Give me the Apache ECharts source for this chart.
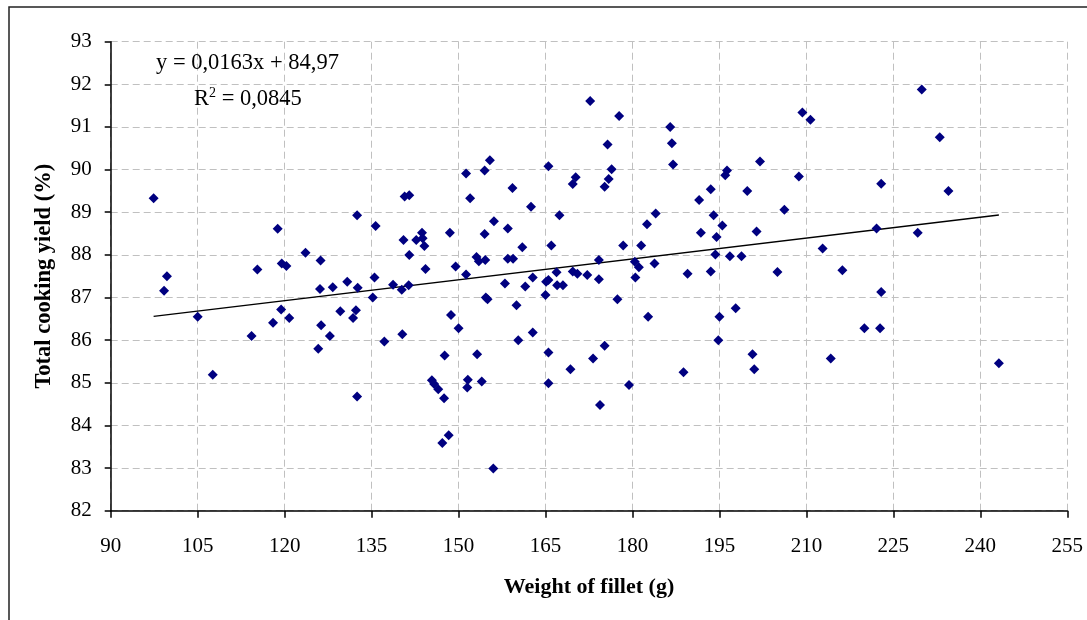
<!DOCTYPE html>
<html>
<head>
<meta charset="utf-8">
<script src="https://cdn.jsdelivr.net/npm/echarts@6/dist/echarts.min.js"></script>
<style>
html,body{margin:0;padding:0;background:#fff;}
#chart{width:1087px;height:620px;}
</style>
</head>
<body>
<div id="chart"></div>
<script>
// Weight of fillet (g)
var weights = [97.4,99.2,99.7,105.0,107.6,114.3,115.3,118.0,118.8,119.4,119.5,120.3,120.8,123.6,126.2,126.1,126.3,125.8,127.8,128.3,
129.6,130.8,131.8,132.3,132.5,132.6,132.5,135.2,135.5,135.7,137.2,138.7,140.2,140.3,140.5,140.7,141.5,141.4,141.5,142.7,
143.7,143.8,144.1,144.3,145.4,145.8,146.5,147.6,147.5,147.2,148.3,148.5,148.7,149.5,150.0,151.3,151.3,151.6,151.5,152.0,
153.2,153.1,153.5,154.0,154.5,155.4,154.5,154.6,154.7,155.0,156.1,156.0,158.0,158.5,158.5,159.3,159.4,160.0,160.3,161.0,
161.5,162.5,162.8,162.8,165.0,165.1,165.5,165.5,165.5,166.0,166.9,167.0,167.4,165.5,168.0,169.3,169.7,170.2,169.7,170.5,
172.2,172.7,173.2,174.2,174.2,174.4,175.2,175.2,175.7,175.9,176.4,177.4,177.7,178.4,179.4,180.4,180.5,181.1,181.5,182.5,
182.7,183.8,184.0,186.5,186.8,187.0,188.8,189.5,191.5,191.8,193.5,193.5,194.0,194.3,194.5,194.8,195.0,195.5,196.0,196.3,
196.8,197.8,198.8,199.8,200.7,201.0,201.4,202.0,205.0,206.2,208.7,209.3,210.7,212.8,214.2,216.2,220.0,222.1,222.7,222.9,
222.9,229.2,229.9,233.0,234.5,243.2];
// Total cooking yield (%)
var yields = [89.33,87.16,87.50,86.55,85.19,86.10,87.66,86.41,88.61,86.72,87.80,87.74,86.52,88.05,87.87,87.20,86.35,85.80,86.10,87.24,
86.68,87.37,86.52,86.70,88.93,87.23,84.68,87.00,87.47,88.68,85.97,87.30,87.18,86.14,88.35,89.37,89.40,87.29,88.00,88.35,
88.52,88.39,88.21,87.67,85.06,84.97,84.85,85.64,84.64,83.59,83.77,88.52,86.59,87.73,86.28,89.91,87.54,85.07,84.89,89.33,
85.67,87.95,87.85,85.03,89.98,90.22,88.49,87.88,87.00,86.96,88.79,82.99,87.33,88.62,87.91,89.57,87.91,86.82,86.00,88.18,
87.26,89.13,86.18,87.47,87.06,87.37,90.08,85.71,84.99,88.22,87.59,87.29,88.93,87.41,87.29,85.32,89.66,89.82,87.61,87.56,
87.53,91.61,85.57,87.88,87.43,84.48,89.60,85.87,90.59,89.78,90.01,86.96,91.26,88.22,84.95,87.84,87.47,87.71,88.22,88.72,
86.55,87.80,88.97,91.00,90.62,90.12,85.25,87.56,89.29,88.52,89.54,87.61,88.93,88.01,88.42,86.00,86.55,88.69,89.87,89.98,
87.97,86.75,87.97,89.50,85.67,85.32,88.55,90.19,87.60,89.06,89.84,91.34,91.17,88.15,85.57,87.64,86.28,88.62,86.28,87.13,
89.67,88.52,91.88,90.76,89.50,85.46];
// Linear trend (as printed on chart)
var trendSlope = 0.0163;
var trendIntercept = 84.97;
var eqText = 'y = 0,0163x + 84,97';
var r2Text = '0,0845';
var xTicks = [90,105,120,135,150,165,180,195,210,225,240,255];
var yTicks = [82,83,84,85,86,87,88,89,90,91,92,93];

var points = weights.map(function(w,i){return [w, yields[i]];});
var xmin = Math.min.apply(null, weights), xmax = Math.max.apply(null, weights);
var trend = [[xmin, trendSlope*xmin+trendIntercept],[xmax, trendSlope*xmax+trendIntercept]];

var FONT = '"Liberation Serif","Times New Roman",serif';
var chart = echarts.init(document.getElementById('chart'), null, {renderer:'canvas'});
var gridStyle = {show:true, lineStyle:{color:'#c0c0c0', width:1, type:[7,4]}};
chart.setOption({
  animation:false,
  backgroundColor:'#fff',
  grid:{left:110.7, right:19.7, top:41.7, bottom:109.3, containLabel:false},
  xAxis:{
    type:'value', min:xTicks[0], max:xTicks[xTicks.length-1], interval:15,
    name:'Weight of fillet (g)', nameLocation:'middle', nameGap:66,
    nameTextStyle:{fontFamily:FONT, fontSize:22, fontWeight:'bold', color:'#000'},
    axisLine:{show:true, onZero:false, lineStyle:{color:'#000', width:1.5}},
    axisTick:{show:true, inside:false, length:7, lineStyle:{color:'#000', width:1.5}},
    axisLabel:{fontFamily:FONT, fontSize:21, color:'#000', margin:25},
    splitLine:gridStyle
  },
  yAxis:{
    type:'value', min:yTicks[0], max:yTicks[yTicks.length-1], interval:1,
    name:'Total cooking yield (%)', nameLocation:'middle', nameGap:55, nameRotate:90,
    nameTextStyle:{fontFamily:FONT, fontSize:22.5, fontWeight:'bold', color:'#000'},
    axisLine:{show:true, onZero:false, lineStyle:{color:'#000', width:1.5}},
    axisTick:{show:true, inside:false, length:6, lineStyle:{color:'#000', width:1.5}},
    axisLabel:{fontFamily:FONT, fontSize:21, color:'#000', margin:19},
    splitLine:gridStyle
  },
  graphic:[
    {type:'rect', silent:true, z:-1,
     shape:{x:9, y:7, width:1200, height:800}, style:{fill:'none', stroke:'#222', lineWidth:1.5}},
    {type:'text', left:156, top:52, z:10,
     style:{text:eqText, fontFamily:FONT, fontSize:22.5, fill:'#000'}},
    {type:'text', left:194, top:86, z:10,
     style:{text:'R{sup|2} = '+r2Text, fontFamily:FONT, fontSize:22.5, fill:'#000',
       rich:{sup:{fontFamily:FONT, fontSize:14, verticalAlign:'top', padding:[0,0,12,0]}}}}
  ],
  series:[
    {type:'scatter', data:points, symbol:'diamond', symbolSize:10,
     itemStyle:{color:'#000080', opacity:1}, z:3},
    {type:'line', data:trend, symbol:'none', lineStyle:{color:'#000', width:1.5}, z:2, silent:true}
  ]
});
</script>
</body>
</html>
